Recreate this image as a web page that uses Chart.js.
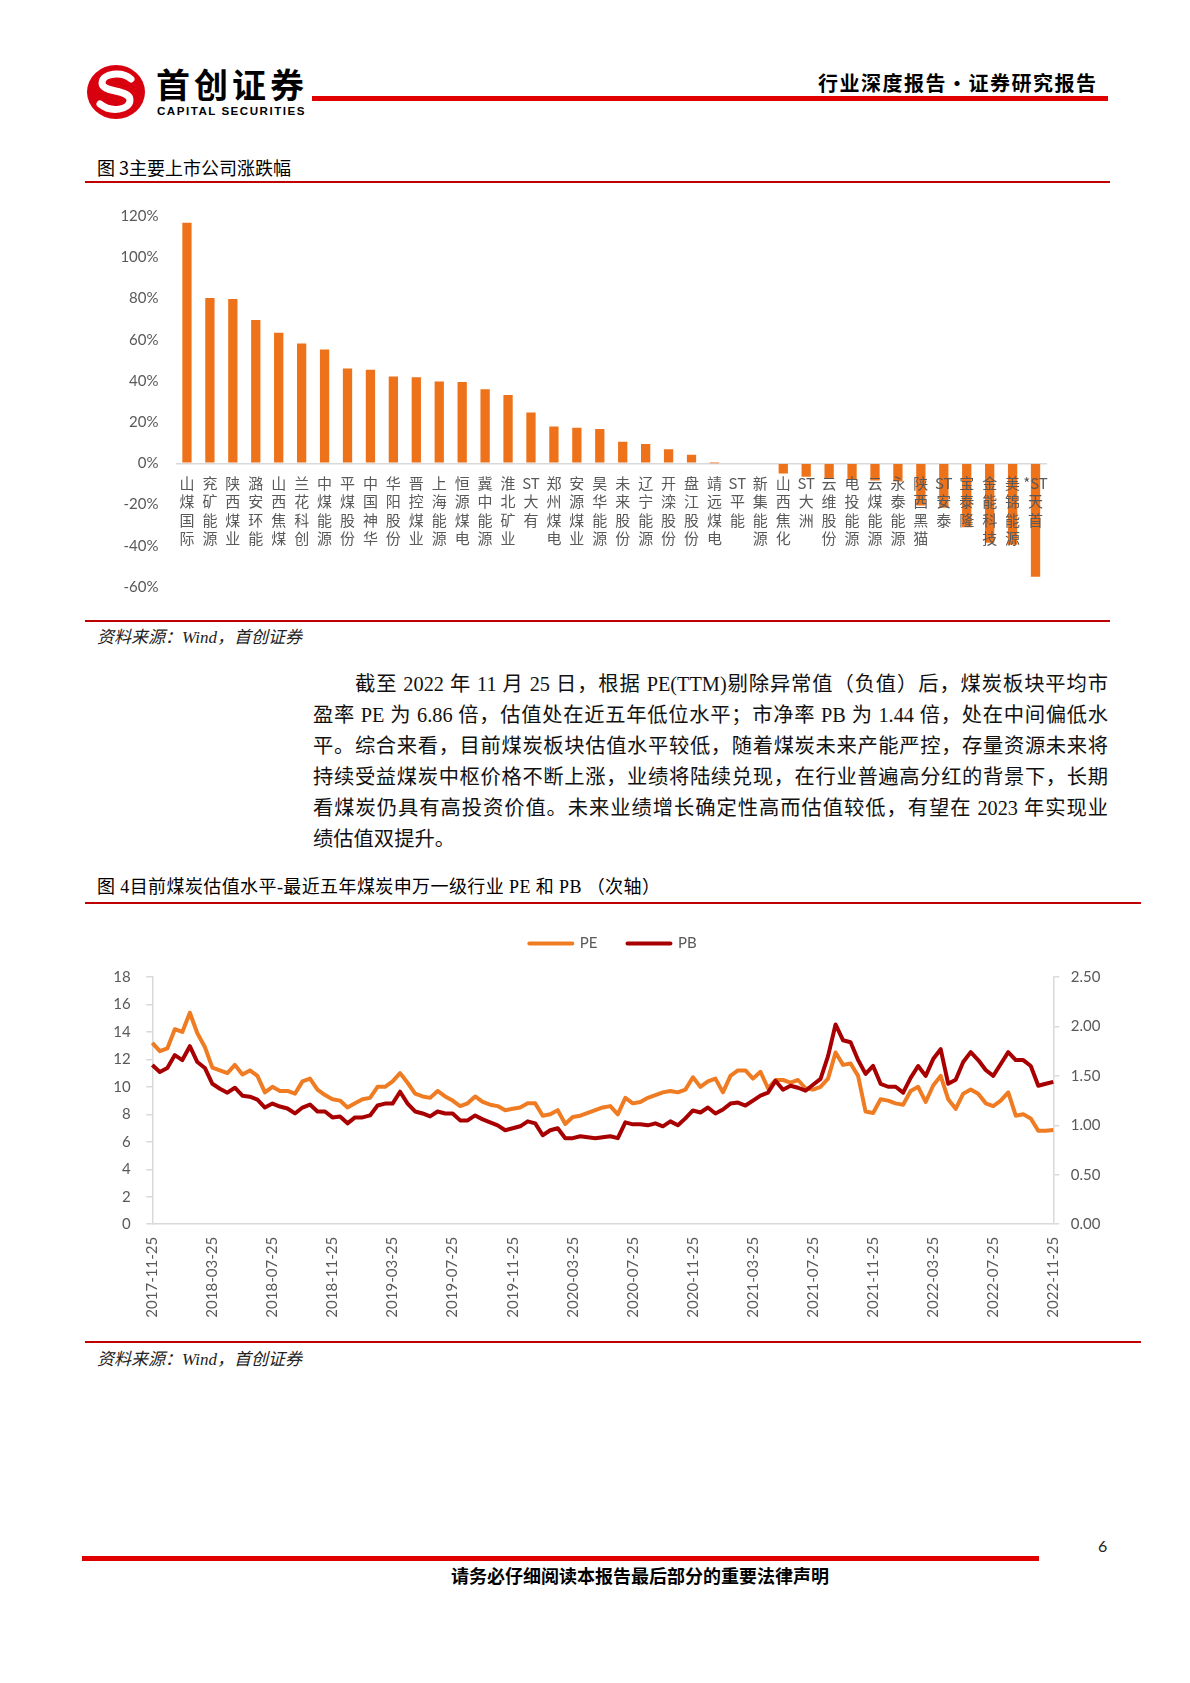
<!DOCTYPE html>
<html><head><meta charset="utf-8">
<script src="https://cdn.jsdelivr.net/npm/chart.js@4.4.0/dist/chart.umd.min.js"></script>
<style>
html,body{margin:0;padding:0;background:#fff;}
body{width:1190px;height:1683px;position:relative;overflow:hidden;font-family:"Noto Sans CJK SC",sans-serif;color:#000;}
.a{position:absolute;white-space:nowrap;}
.rule{position:absolute;}
.cap{font-size:18px;line-height:20px;}
.src{font-family:"Liberation Serif","Noto Sans CJK SC",serif;font-style:italic;font-size:17px;line-height:20px;color:#222;}
.p{position:absolute;font-family:"Liberation Serif","Noto Sans CJK SC",serif;font-size:20.3px;line-height:31px;height:31px;color:#111;text-align:justify;text-align-last:justify;}
canvas{position:absolute;}
</style></head><body>

<svg class="a" style="left:85px;top:64px" width="62" height="56" viewBox="0 0 62 56">
  <ellipse cx="31" cy="28" rx="29" ry="27" fill="#D8000F"/>
  <path d="M46 15 C37 7 17 9 17 19 C17 29 45 25 45 36 C45 46 26 49 15 40" stroke="#fff" stroke-width="7" fill="none" stroke-linecap="round"/>
</svg>
<div class="a" style="left:156px;top:67px;font-size:34px;line-height:34px;font-weight:700;letter-spacing:4px;">首创证券</div>
<div class="a" style="left:157px;top:105px;font-family:'Liberation Sans',sans-serif;font-size:11.6px;line-height:12px;font-weight:700;letter-spacing:1.5px;">CAPITAL SECURITIES</div>
<div class="rule" style="left:312px;top:96px;width:796px;height:5px;background:#E00000;"></div>
<div class="a" style="left:818px;top:73px;font-size:20px;line-height:20px;font-weight:700;letter-spacing:1.5px;">行业深度报告・证券研究报告</div>

<div class="a cap" style="left:97px;top:157px;">图 3主要上市公司涨跌幅</div>
<div class="rule" style="left:85px;top:181px;width:1025px;height:2px;background:#C00000;"></div>
<canvas id="bar" width="1025" height="423" style="left:85px;top:190px;width:1025px;height:423px;"></canvas>
<div class="rule" style="left:85px;top:620px;width:1025px;height:2px;background:#C00000;"></div>
<div class="a src" style="left:97px;top:628px;">资料来源：Wind，首创证券</div>

<div class="p" style="left:355px;top:669px;width:753px;">截至 2022 年 11 月 25 日，根据 PE(TTM)剔除异常值（负值）后，煤炭板块平均市</div>
<div class="p" style="left:313px;top:700px;width:795px;">盈率 PE 为 6.86 倍，估值处在近五年低位水平；市净率 PB 为 1.44 倍，处在中间偏低水</div>
<div class="p" style="left:313px;top:731px;width:795px;">平。综合来看，目前煤炭板块估值水平较低，随着煤炭未来产能严控，存量资源未来将</div>
<div class="p" style="left:313px;top:762px;width:795px;">持续受益煤炭中枢价格不断上涨，业绩将陆续兑现，在行业普遍高分红的背景下，长期</div>
<div class="p" style="left:313px;top:793px;width:795px;">看煤炭仍具有高投资价值。未来业绩增长确定性高而估值较低，有望在 2023 年实现业</div>
<div class="p" style="left:313px;top:824px;width:795px;text-align:left;text-align-last:left;">绩估值双提升。</div>

<div class="a cap" style="left:97px;top:877px;font-family:'Liberation Serif','Noto Sans CJK SC',serif;letter-spacing:0.4px;">图 4目前煤炭估值水平-最近五年煤炭申万一级行业 PE 和 PB （次轴）</div>
<div class="rule" style="left:85px;top:902px;width:1056px;height:2px;background:#C00000;"></div>
<canvas id="line" width="1056" height="428" style="left:85px;top:906px;width:1056px;height:428px;"></canvas>
<div class="rule" style="left:85px;top:1341px;width:1056px;height:2px;background:#C00000;"></div>
<div class="a src" style="left:97px;top:1350px;">资料来源：Wind，首创证券</div>

<div class="a" style="left:1098px;top:1536px;font-family:Lato,sans-serif;font-size:16px;line-height:20px;color:#222;">6</div>
<div class="rule" style="left:82px;top:1556px;width:957px;height:5px;background:#E00000;"></div>
<div class="a" style="left:451px;top:1565px;font-size:18px;line-height:20px;font-weight:700;">请务必仔细阅读本报告最后部分的重要法律声明</div>

<script>
// ---------- Figure 3 data ----------
const companies = ['山煤国际','兖矿能源','陕西煤业','潞安环能','山西焦煤','兰花科创','中煤能源','平煤股份','中国神华','华阳股份','晋控煤业','上海能源','恒源煤电','冀中能源','淮北矿业','ST大有','郑州煤电','安源煤业','昊华能源','未来股份','辽宁能源','开滦股份','盘江股份','靖远煤电','ST平能','新集能源','山西焦化','ST大洲','云维股份','电投能源','云煤能源','永泰能源','陕西黑猫','ST安泰','宝泰隆','金能科技','美锦能源','*ST天首'];
const changePct = [116.7,80.2,79.7,69.6,63.4,58.1,55.2,46.0,45.4,42.1,41.8,39.7,39.5,36.0,33.1,24.7,17.9,17.3,16.6,10.5,9.4,6.8,4.2,0.1,0.0,-0.3,-4.9,-6.5,-7.2,-7.8,-8.3,-8.8,-20.5,-21.5,-31.0,-38.5,-39.5,-55.0];
const pctTicks = [-60,-40,-20,0,20,40,60,80,100,120];

// ---------- Figure 4 data ----------
const peValues = [13.2,12.6,12.8,14.2,14.0,15.4,13.9,12.9,11.4,11.2,
11.0,11.6,10.9,11.2,10.8,9.6,10.0,9.7,9.7,9.5,
10.4,10.6,9.8,9.4,9.1,9.0,8.5,8.8,9.1,9.2,
10.0,10.0,10.4,11.0,10.3,9.5,9.3,9.2,9.7,9.3,
9.0,8.6,8.8,9.3,8.9,8.7,8.6,8.3,8.4,8.5,
8.8,8.8,7.9,8.0,8.3,7.3,7.8,7.9,8.1,8.3,
8.5,8.6,8.0,9.2,8.8,8.9,9.2,9.4,9.6,9.7,
9.6,9.8,10.7,10.0,10.4,10.6,9.6,10.8,11.2,11.2,
10.6,11.1,9.9,10.5,10.5,10.3,10.5,9.9,9.8,10.0,
10.6,12.5,11.6,11.7,10.8,8.2,8.1,9.1,9.0,8.8,
8.7,9.7,10.0,8.9,10.1,10.8,9.1,8.4,9.5,9.8,
9.5,8.8,8.6,9.0,9.6,7.9,8.0,7.7,6.8,6.8,
6.86];
const pbValues = [1.61,1.54,1.58,1.71,1.66,1.80,1.64,1.58,1.42,1.37,
1.33,1.38,1.30,1.29,1.26,1.18,1.22,1.19,1.17,1.12,
1.18,1.21,1.14,1.14,1.08,1.09,1.02,1.08,1.08,1.10,
1.20,1.22,1.22,1.34,1.22,1.14,1.12,1.09,1.14,1.12,
1.12,1.05,1.05,1.10,1.06,1.03,1.00,0.95,0.97,0.99,
1.04,1.02,0.90,0.95,0.97,0.87,0.87,0.89,0.88,0.87,
0.88,0.89,0.87,1.03,1.01,1.01,1.00,1.02,0.99,1.04,
1.00,1.07,1.15,1.13,1.18,1.12,1.16,1.22,1.23,1.20,
1.25,1.30,1.33,1.45,1.36,1.40,1.38,1.35,1.41,1.47,
1.70,2.02,1.86,1.84,1.66,1.52,1.60,1.42,1.39,1.39,
1.33,1.48,1.60,1.50,1.67,1.77,1.42,1.46,1.64,1.74,
1.66,1.56,1.50,1.62,1.74,1.66,1.66,1.60,1.40,1.42,
1.44];
const peTicks = [0,2,4,6,8,10,12,14,16,18];
const pbTicks = [0,0.5,1,1.5,2,2.5];
// half-monthly date categories, 2017-11-25 … 2022-11-25
const dateLabels = [];
(function(){
  function ym(k){ const m = 10 + k; const y = 2017 + Math.floor(m/12); const mm = (m%12)+1; return y + '-' + (mm<10?'0':'') + mm; }
  for (let k=0;k<=60;k++){ dateLabels.push(ym(k)+'-25'); if(k<60) dateLabels.push(ym(k+1)+'-10'); }
})();

const GREY = '#595959';
const AXIS = '#d9d9d9';

function vert(name){
  const m = name.match(/^(\*?ST)(.*)$/);
  return m ? [m[1]].concat(m[2].split('')) : name.split('');
}

new Chart(document.getElementById('bar'), {
  type: 'bar',
  data: {
    labels: companies.map(vert),
    datasets: [{ data: changePct, backgroundColor: '#EE7219', borderWidth: 0, barPercentage: 0.405, categoryPercentage: 1.0 }]
  },
  options: {
    responsive: false, animation: false,
    layout: { padding: { top: 0, bottom: 0, left: 0, right: 63 } },
    plugins: { legend: { display: false }, tooltip: { enabled: false } },
    scales: {
      x: {
        position: { y: 0 },
        grid: { display: false, drawTicks: false },
        border: { display: false },
        ticks: { autoSkip: false, maxRotation: 0, minRotation: 0, padding: 10.8, z: 1, color: GREY,
                 font: { family: 'Noto Sans CJK SC', size: 15, lineHeight: 1.222 } },
        afterFit: s => { s.height = 0; }
      },
      y: {
        min: pctTicks[0], max: pctTicks[pctTicks.length-1],
        border: { display: false },
        grid: { drawTicks: false, lineWidth: 1.5, color: c => (c.tick && c.tick.value === 0) ? AXIS : 'rgba(0,0,0,0)' },
        ticks: { stepSize: 20, padding: 17, color: GREY, font: { family: 'Lato', size: 15 }, callback: v => v + '%' },
        afterFit: s => { s.width = 90.5; }
      }
    }
  }
});

const legendGap = {
  id: 'legendGap',
  beforeLayout(chart) {
    const lg = chart.legend;
    if (lg && !lg._gapPatched) {
      const orig = lg.fit;
      lg.fit = function(){ orig.call(this); this.height += 16; };
      lg._gapPatched = true;
    }
  }
};

new Chart(document.getElementById('line'), {
  type: 'line',
  data: {
    labels: dateLabels,
    datasets: [
      { label: 'PE', data: peValues, yAxisID: 'yPE', borderColor: '#EF7B22', backgroundColor: '#EF7B22', borderWidth: 4, pointRadius: 0, borderJoinStyle: 'round', order: 1 },
      { label: 'PB', data: pbValues, yAxisID: 'yPB', borderColor: '#A80000', backgroundColor: '#A80000', borderWidth: 4, pointRadius: 0, borderJoinStyle: 'round', order: 0 }
    ]
  },
  options: {
    responsive: false, animation: false,
    layout: { padding: 0 },
    plugins: {
      tooltip: { enabled: false },
      legend: { position: 'top', labels: { boxWidth: 43, boxHeight: 0, padding: 30, color: GREY,
                font: { family: 'Lato', size: 15 }, sort: (a, b) => a.datasetIndex - b.datasetIndex } }
    },
    scales: {
      x: {
        offset: false,
        grid: { display: false, drawTicks: false },
        border: { display: true, color: AXIS, width: 1.5 },
        ticks: { autoSkip: false, minRotation: 90, maxRotation: 90, padding: 12.7, color: GREY,
                 font: { family: 'Lato', size: 15 },
                 callback: function(v, i){ return i % 8 === 0 ? dateLabels[i] : null; } },
        afterFit: s => { s.height = 109.8; }
      },
      yPE: {
        position: 'left', min: peTicks[0], max: peTicks[peTicks.length-1],
        border: { display: true, color: AXIS, width: 1.5 },
        grid: { drawOnChartArea: false, drawTicks: true, tickLength: 6, color: AXIS, lineWidth: 1.5 },
        ticks: { stepSize: 2, padding: 15.6, color: GREY, font: { family: 'Lato', size: 15 } },
        afterFit: s => { s.width = 67.3; }
      },
      yPB: {
        position: 'right', min: pbTicks[0], max: pbTicks[pbTicks.length-1],
        border: { display: true, color: AXIS, width: 1.5 },
        grid: { drawOnChartArea: false, drawTicks: true, tickLength: 6, color: AXIS, lineWidth: 1.5 },
        ticks: { stepSize: 0.5, padding: 11.4, color: GREY, font: { family: 'Lato', size: 15 }, callback: v => v.toFixed(2) },
        afterFit: s => { s.width = 87.7; }
      }
    }
  },
  plugins: [legendGap]
});
</script>
</body></html>
